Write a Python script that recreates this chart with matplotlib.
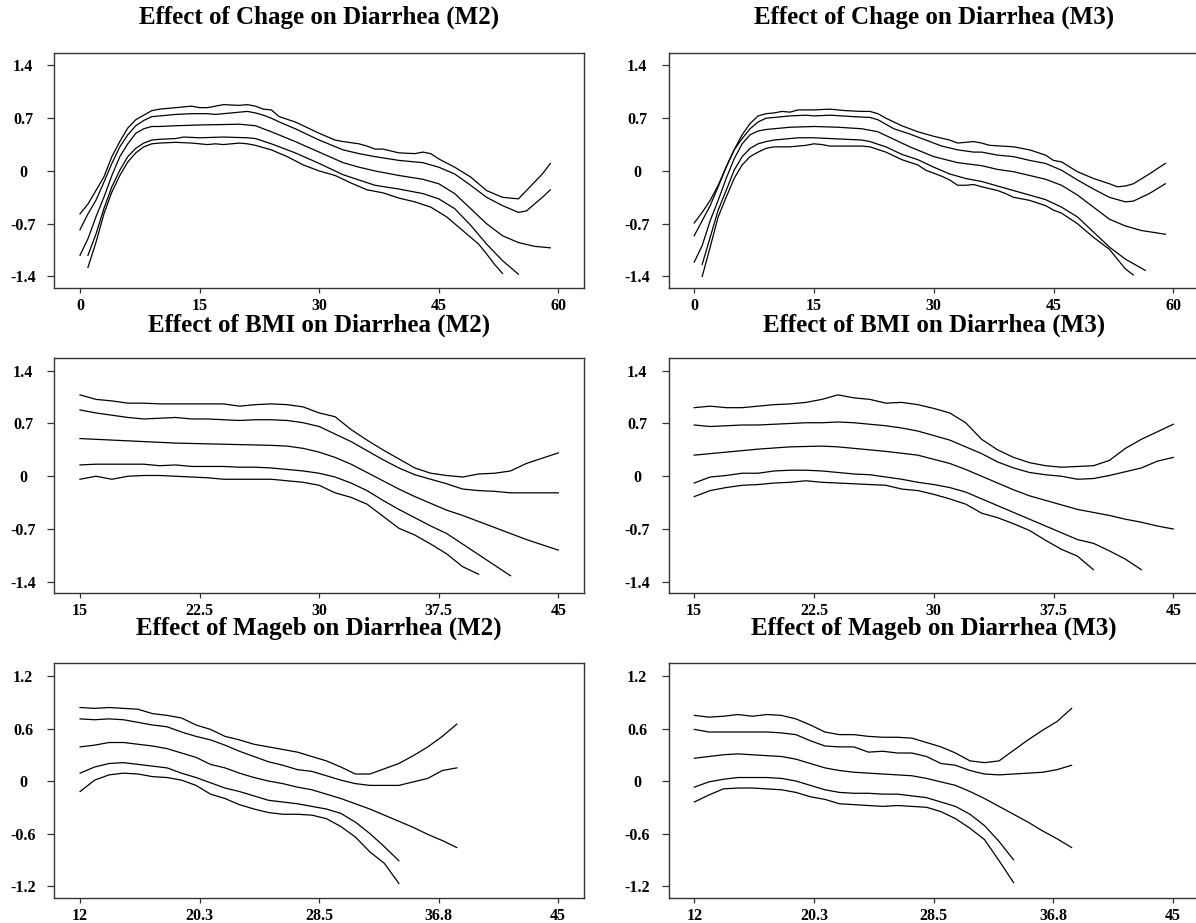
import matplotlib
matplotlib.use("Agg")
import matplotlib.pyplot as plt

plt.rcParams['font.family'] = ['Liberation Serif', 'DejaVu Serif']

# ---------------- data ----------------
# Panel 1: Chage (M2)
chage_m2_a_x = [0,1,2,3,4,5,6,7,8,9,10,12,14,15,16,18,20,21,22,23,24,25,27,30,32,33,35,36,37,38,40,42,43,44,45,47,49,51,53,54,55,56,57,58,59]
chage_m2_a_y = [-0.57,-0.44,-0.26,-0.08,0.19,0.39,0.57,0.68,0.74,0.80,0.82,0.84,0.86,0.84,0.84,0.88,0.87,0.88,0.86,0.82,0.81,0.72,0.65,0.50,0.41,0.39,0.36,0.33,0.29,0.29,0.24,0.23,0.25,0.23,0.16,0.05,-0.08,-0.26,-0.35,-0.36,-0.37,-0.26,-0.15,-0.04,0.10]
chage_m2_b_x = [0,1,2,3,4,5,6,7,8,9,10,12,14,16,17,18,20,21,22,23,24,25,27,30,33,35,37,40,43,45,47,49,51,53,55,56,57,58,59]
chage_m2_b_y = [-0.78,-0.57,-0.39,-0.15,0.10,0.32,0.48,0.60,0.67,0.72,0.73,0.75,0.76,0.76,0.75,0.76,0.78,0.79,0.77,0.74,0.70,0.65,0.56,0.41,0.28,0.23,0.19,0.14,0.11,0.05,-0.04,-0.19,-0.35,-0.46,-0.55,-0.53,-0.44,-0.35,-0.25]
chage_m2_c_x = [0,1,2,3,4,5,6,7,8,9,10,12,15,20,22,24,27,30,33,35,37,40,43,45,47,49,51,53,55,57,59]
chage_m2_c_y = [-1.12,-0.90,-0.61,-0.35,-0.06,0.19,0.36,0.50,0.56,0.59,0.59,0.60,0.61,0.62,0.60,0.52,0.39,0.25,0.11,0.05,0.00,-0.06,-0.11,-0.17,-0.30,-0.50,-0.70,-0.86,-0.95,-1.00,-1.02]
chage_m2_d_x = [1,2,3,4,5,6,7,8,9,10,12,13,15,18,21,22,24,27,30,33,35,37,40,43,45,47,49,51,53,55]
chage_m2_d_y = [-1.12,-0.84,-0.50,-0.21,0.01,0.19,0.30,0.37,0.41,0.42,0.43,0.45,0.44,0.45,0.44,0.43,0.36,0.24,0.10,-0.05,-0.12,-0.19,-0.24,-0.30,-0.37,-0.50,-0.72,-0.97,-1.19,-1.37]
chage_m2_e_x = [1,2,3,4,5,6,7,8,9,10,12,14,16,17,18,20,21,22,24,26,28,30,32,34,36,38,40,42,44,46,48,50,51,52,53]
chage_m2_e_y = [-1.28,-0.95,-0.57,-0.28,-0.06,0.12,0.24,0.32,0.36,0.37,0.38,0.37,0.35,0.36,0.35,0.37,0.36,0.34,0.28,0.19,0.08,0.00,-0.06,-0.16,-0.25,-0.29,-0.36,-0.41,-0.48,-0.61,-0.79,-0.97,-1.10,-1.24,-1.36]

# Panel 2: Chage (M3)
chage_m3_a_x = [0,1,2,3,4,5,6,7,8,9,10,11,12,13,15,17,19,21,22,23,24,26,28,30,32,33,35,36,37,40,42,44,45,46,48,50,52,53,54,55,57,59]
chage_m3_a_y = [-0.69,-0.55,-0.39,-0.19,0.05,0.28,0.48,0.63,0.73,0.76,0.77,0.79,0.78,0.81,0.81,0.82,0.80,0.79,0.79,0.76,0.70,0.60,0.52,0.46,0.41,0.37,0.39,0.37,0.34,0.32,0.28,0.21,0.14,0.12,-0.01,-0.10,-0.17,-0.21,-0.20,-0.17,-0.04,0.10]
chage_m3_b_x = [0,1,2,3,4,5,6,7,8,9,10,12,14,15,17,20,22,23,25,27,29,31,33,35,36,38,40,42,44,46,48,50,52,54,55,57,59]
chage_m3_b_y = [-0.86,-0.66,-0.46,-0.21,0.05,0.28,0.43,0.56,0.65,0.70,0.71,0.73,0.74,0.73,0.74,0.72,0.71,0.68,0.56,0.49,0.41,0.33,0.28,0.25,0.25,0.21,0.19,0.14,0.10,0.01,-0.12,-0.24,-0.35,-0.41,-0.40,-0.30,-0.17]
chage_m3_c_x = [0,1,2,3,4,5,6,7,8,9,10,12,15,18,21,23,25,27,30,33,36,38,40,42,44,46,48,50,52,54,56,59]
chage_m3_c_y = [-1.21,-0.99,-0.66,-0.39,-0.10,0.16,0.36,0.48,0.53,0.55,0.56,0.58,0.59,0.58,0.56,0.52,0.42,0.32,0.19,0.11,0.07,0.02,-0.01,-0.06,-0.11,-0.19,-0.32,-0.48,-0.64,-0.73,-0.79,-0.84]
chage_m3_d_x = [1,2,3,4,5,6,7,8,9,10,12,13,15,17,19,21,22,24,26,28,30,32,34,36,38,40,42,44,46,48,50,52,54,56.5]
chage_m3_d_y = [-1.24,-0.88,-0.52,-0.26,0.01,0.19,0.30,0.36,0.39,0.41,0.43,0.44,0.44,0.43,0.42,0.41,0.39,0.32,0.22,0.15,0.05,-0.04,-0.10,-0.14,-0.20,-0.26,-0.32,-0.38,-0.48,-0.61,-0.81,-1.01,-1.17,-1.32]
chage_m3_e_x = [1,2,3,4,5,6,7,8,9,10,12,14,15,16,17,19,21,22,24,26,28,29,31,32,33,34,35,36,38,39,40,42,44,45,46,48,50,52,53,54,55]
chage_m3_e_y = [-1.40,-1.01,-0.61,-0.35,-0.10,0.08,0.19,0.25,0.30,0.32,0.32,0.34,0.36,0.35,0.33,0.33,0.33,0.32,0.25,0.15,0.08,0.01,-0.07,-0.12,-0.19,-0.19,-0.18,-0.21,-0.26,-0.30,-0.35,-0.39,-0.46,-0.52,-0.56,-0.70,-0.88,-1.04,-1.17,-1.30,-1.38]

# Panel 3: BMI (M2)
bmi_x_full = list(range(15, 46))
bmi_m2_a = [1.08,1.02,1.00,0.97,0.97,0.96,0.96,0.96,0.96,0.96,0.93,0.95,0.96,0.95,0.92,0.84,0.79,0.62,0.48,0.35,0.23,0.11,0.04,0.01,-0.01,0.03,0.04,0.07,0.17,0.24,0.31]
bmi_m2_b = [0.88,0.84,0.81,0.78,0.76,0.77,0.78,0.76,0.76,0.75,0.74,0.75,0.75,0.74,0.71,0.66,0.56,0.46,0.34,0.22,0.11,0.02,-0.04,-0.10,-0.17,-0.19,-0.20,-0.22,-0.22,-0.22,-0.22]
bmi_m2_c_x = [15,17,19,21,23,25,27,28,29,30,31,32,33,34,35,36,37,38,39,40,41,42,43,44,45]
bmi_m2_c = [0.50,0.48,0.46,0.44,0.43,0.42,0.41,0.40,0.37,0.32,0.25,0.16,0.05,-0.06,-0.17,-0.27,-0.36,-0.45,-0.52,-0.60,-0.68,-0.76,-0.84,-0.91,-0.98]
bmi_m2_d_x = list(range(15, 43))
bmi_m2_d = [0.15,0.16,0.16,0.16,0.16,0.14,0.15,0.13,0.13,0.13,0.12,0.12,0.11,0.09,0.07,0.04,-0.01,-0.09,-0.19,-0.32,-0.44,-0.55,-0.66,-0.76,-0.90,-1.04,-1.18,-1.32]
bmi_m2_e_x = list(range(15, 41))
bmi_m2_e = [-0.04,0.00,-0.04,0.00,0.01,0.01,0.00,-0.01,-0.02,-0.04,-0.04,-0.04,-0.04,-0.06,-0.08,-0.12,-0.22,-0.28,-0.37,-0.53,-0.69,-0.78,-0.90,-1.03,-1.20,-1.30]

# Panel 4: BMI (M3)
bmi_m3_a = [0.91,0.93,0.91,0.91,0.93,0.95,0.96,0.98,1.02,1.08,1.04,1.02,0.97,0.98,0.95,0.90,0.84,0.71,0.49,0.35,0.25,0.18,0.14,0.12,0.13,0.14,0.21,0.37,0.49,0.59,0.69]
bmi_m3_b = [0.68,0.66,0.67,0.68,0.68,0.69,0.70,0.71,0.71,0.72,0.71,0.69,0.67,0.64,0.60,0.54,0.48,0.39,0.30,0.19,0.11,0.05,0.02,0.00,-0.04,-0.03,0.01,0.06,0.11,0.20,0.25]
bmi_m3_c_x = [15,17,19,21,23,24,25,27,29,31,32,33,34,35,36,37,38,39,40,41,42,43,44,45]
bmi_m3_c = [0.28,0.32,0.36,0.39,0.40,0.39,0.37,0.33,0.28,0.17,0.09,0.00,-0.09,-0.18,-0.26,-0.32,-0.38,-0.44,-0.48,-0.52,-0.57,-0.61,-0.66,-0.70]
bmi_m3_d_x = list(range(15, 44))
bmi_m3_d = [-0.09,-0.01,0.01,0.04,0.04,0.07,0.08,0.08,0.07,0.05,0.03,0.02,-0.01,-0.04,-0.08,-0.11,-0.15,-0.21,-0.30,-0.39,-0.48,-0.57,-0.66,-0.75,-0.84,-0.89,-0.99,-1.10,-1.24]
bmi_m3_e_x = list(range(15, 41))
bmi_m3_e = [-0.27,-0.19,-0.15,-0.12,-0.11,-0.09,-0.08,-0.06,-0.08,-0.09,-0.10,-0.11,-0.12,-0.17,-0.19,-0.24,-0.30,-0.37,-0.49,-0.55,-0.63,-0.72,-0.85,-0.97,-1.06,-1.24]

# Panel 5: Mageb (M2)
mageb_x_full = list(range(12, 39))
mageb_x_short = list(range(12, 35))
mageb_m2_a = [0.84,0.83,0.84,0.83,0.82,0.77,0.75,0.72,0.64,0.59,0.51,0.47,0.42,0.39,0.36,0.33,0.28,0.23,0.16,0.08,0.08,0.14,0.20,0.29,0.39,0.51,0.65]
mageb_m2_b = [0.71,0.70,0.71,0.70,0.67,0.64,0.62,0.56,0.51,0.47,0.41,0.34,0.28,0.22,0.18,0.13,0.11,0.06,0.01,-0.03,-0.05,-0.05,-0.05,-0.01,0.03,0.12,0.15]
mageb_m2_c = [0.39,0.41,0.44,0.44,0.42,0.40,0.37,0.32,0.27,0.19,0.15,0.09,0.04,0.00,-0.03,-0.07,-0.10,-0.15,-0.20,-0.26,-0.32,-0.39,-0.46,-0.53,-0.61,-0.68,-0.76]
mageb_m2_d = [0.09,0.16,0.20,0.21,0.19,0.17,0.15,0.09,0.04,-0.02,-0.08,-0.12,-0.17,-0.22,-0.24,-0.26,-0.29,-0.32,-0.37,-0.47,-0.60,-0.75,-0.91]
mageb_m2_e = [-0.12,0.01,0.07,0.09,0.08,0.05,0.04,0.01,-0.05,-0.15,-0.20,-0.27,-0.32,-0.36,-0.38,-0.38,-0.39,-0.43,-0.52,-0.64,-0.81,-0.94,-1.17]

# Panel 6: Mageb (M3)
mageb_m3_a = [0.75,0.73,0.74,0.76,0.74,0.76,0.75,0.71,0.64,0.56,0.53,0.53,0.51,0.50,0.50,0.49,0.44,0.39,0.32,0.23,0.21,0.23,0.35,0.47,0.58,0.68,0.83]
mageb_m3_b = [0.59,0.56,0.56,0.56,0.56,0.56,0.55,0.53,0.46,0.40,0.39,0.39,0.33,0.34,0.32,0.32,0.28,0.20,0.18,0.12,0.08,0.07,0.08,0.09,0.10,0.13,0.18]
mageb_m3_c = [0.26,0.28,0.30,0.31,0.30,0.29,0.28,0.25,0.20,0.15,0.12,0.10,0.09,0.08,0.07,0.06,0.03,-0.01,-0.05,-0.12,-0.20,-0.29,-0.38,-0.47,-0.57,-0.66,-0.76]
mageb_m3_d = [-0.07,-0.01,0.02,0.04,0.04,0.04,0.03,0.00,-0.05,-0.10,-0.13,-0.14,-0.14,-0.15,-0.15,-0.17,-0.19,-0.24,-0.29,-0.38,-0.51,-0.69,-0.90]
mageb_m3_e = [-0.24,-0.16,-0.09,-0.08,-0.08,-0.09,-0.10,-0.13,-0.18,-0.21,-0.26,-0.27,-0.28,-0.29,-0.28,-0.29,-0.30,-0.35,-0.43,-0.54,-0.67,-0.91,-1.16]

titles = ["Effect of Chage on Diarrhea (M2)", "Effect of Chage on Diarrhea (M3)",
          "Effect of BMI on Diarrhea (M2)", "Effect of BMI on Diarrhea (M3)",
          "Effect of Mageb on Diarrhea (M2)", "Effect of Mageb on Diarrhea (M3)"]
chage_ticks = [0, 15, 30, 45, 60]
chage_labels = ["0", "15", "30", "45", "60"]
bmi_ticks = [15, 22.5, 30, 37.5, 45]
bmi_labels = ["15", "22.5", "30", "37.5", "45"]
mageb_ticks = [12, 20.25, 28.5, 36.75, 45]
mageb_labels = ["12", "20.3", "28.5", "36.8", "45"]
y_ticks_a = [-1.4, -0.7, 0, 0.7, 1.4]
y_labels_a = ["-1.4", "-0.7", "0", "0.7", "1.4"]
y_ticks_b = [-1.2, -0.6, 0, 0.6, 1.2]
y_labels_b = ["-1.2", "-0.6", "0", "0.6", "1.2"]

panels = [
    [(chage_m2_a_x, chage_m2_a_y), (chage_m2_b_x, chage_m2_b_y), (chage_m2_c_x, chage_m2_c_y),
     (chage_m2_d_x, chage_m2_d_y), (chage_m2_e_x, chage_m2_e_y)],
    [(chage_m3_a_x, chage_m3_a_y), (chage_m3_b_x, chage_m3_b_y), (chage_m3_c_x, chage_m3_c_y),
     (chage_m3_d_x, chage_m3_d_y), (chage_m3_e_x, chage_m3_e_y)],
    [(bmi_x_full, bmi_m2_a), (bmi_x_full, bmi_m2_b), (bmi_m2_c_x, bmi_m2_c),
     (bmi_m2_d_x, bmi_m2_d), (bmi_m2_e_x, bmi_m2_e)],
    [(bmi_x_full, bmi_m3_a), (bmi_x_full, bmi_m3_b), (bmi_m3_c_x, bmi_m3_c),
     (bmi_m3_d_x, bmi_m3_d), (bmi_m3_e_x, bmi_m3_e)],
    [(mageb_x_full, mageb_m2_a), (mageb_x_full, mageb_m2_b), (mageb_x_full, mageb_m2_c),
     (mageb_x_short, mageb_m2_d), (mageb_x_short, mageb_m2_e)],
    [(mageb_x_full, mageb_m3_a), (mageb_x_full, mageb_m3_b), (mageb_x_full, mageb_m3_c),
     (mageb_x_short, mageb_m3_d), (mageb_x_short, mageb_m3_e)],
]

# ---------------- layout ----------------
W, H = 1196, 923
fig = plt.figure(figsize=(W / 100, H / 100), dpi=100)
fig.patch.set_facecolor('white')

col_left = [54.3, 668.5]
col_width = [529.7, 530.5]
row_top = [53.0, 358.3, 663.3]
ax_h = 235.0
title_pad = [21.0, 18.9, 20.4]

x_setups = [(chage_ticks, chage_labels, (-3.22, 63.22)),
            (bmi_ticks, bmi_labels, (13.39, 46.61)),
            (mageb_ticks, mageb_labels, (10.22, 46.78))]
y_setups = [(y_ticks_a, y_labels_a, (-1.553, 1.565)),
            (y_ticks_a, y_labels_a, (-1.553, 1.565)),
            (y_ticks_b, y_labels_b, (-1.34, 1.345))]

spine_col = '#333333'
for i in range(6):
    r, c = divmod(i, 2)
    left = col_left[c] / W
    bottom = 1 - (row_top[r] + ax_h) / H
    ax = fig.add_axes([left, bottom, col_width[c] / W, ax_h / H])
    for xs, ys in panels[i]:
        ax.plot(xs, ys, color='black', lw=0.9)
    xt, xl, xlim = x_setups[r]
    yt, yl, ylim = y_setups[r]
    ax.set_xlim(*xlim)
    ax.set_ylim(*ylim)
    ax.set_xticks(xt)
    ax.set_xticklabels(xl, fontsize=11.5, fontweight='bold')
    ax.set_yticks(yt)
    ax.set_yticklabels(yl, fontsize=11.5, fontweight='bold', ha='center')
    ax.tick_params(axis='x', length=3.6, width=0.9, pad=3.5, color=spine_col)
    ax.tick_params(axis='y', length=4.8, width=0.9, pad=17.7, color=spine_col)
    for sp in ax.spines.values():
        sp.set_color(spine_col)
        sp.set_linewidth(1.0)
    ax.set_title(titles[i], fontsize=18, fontweight='bold', pad=title_pad[r])

fig.savefig("out.png", dpi=100, facecolor='white')
